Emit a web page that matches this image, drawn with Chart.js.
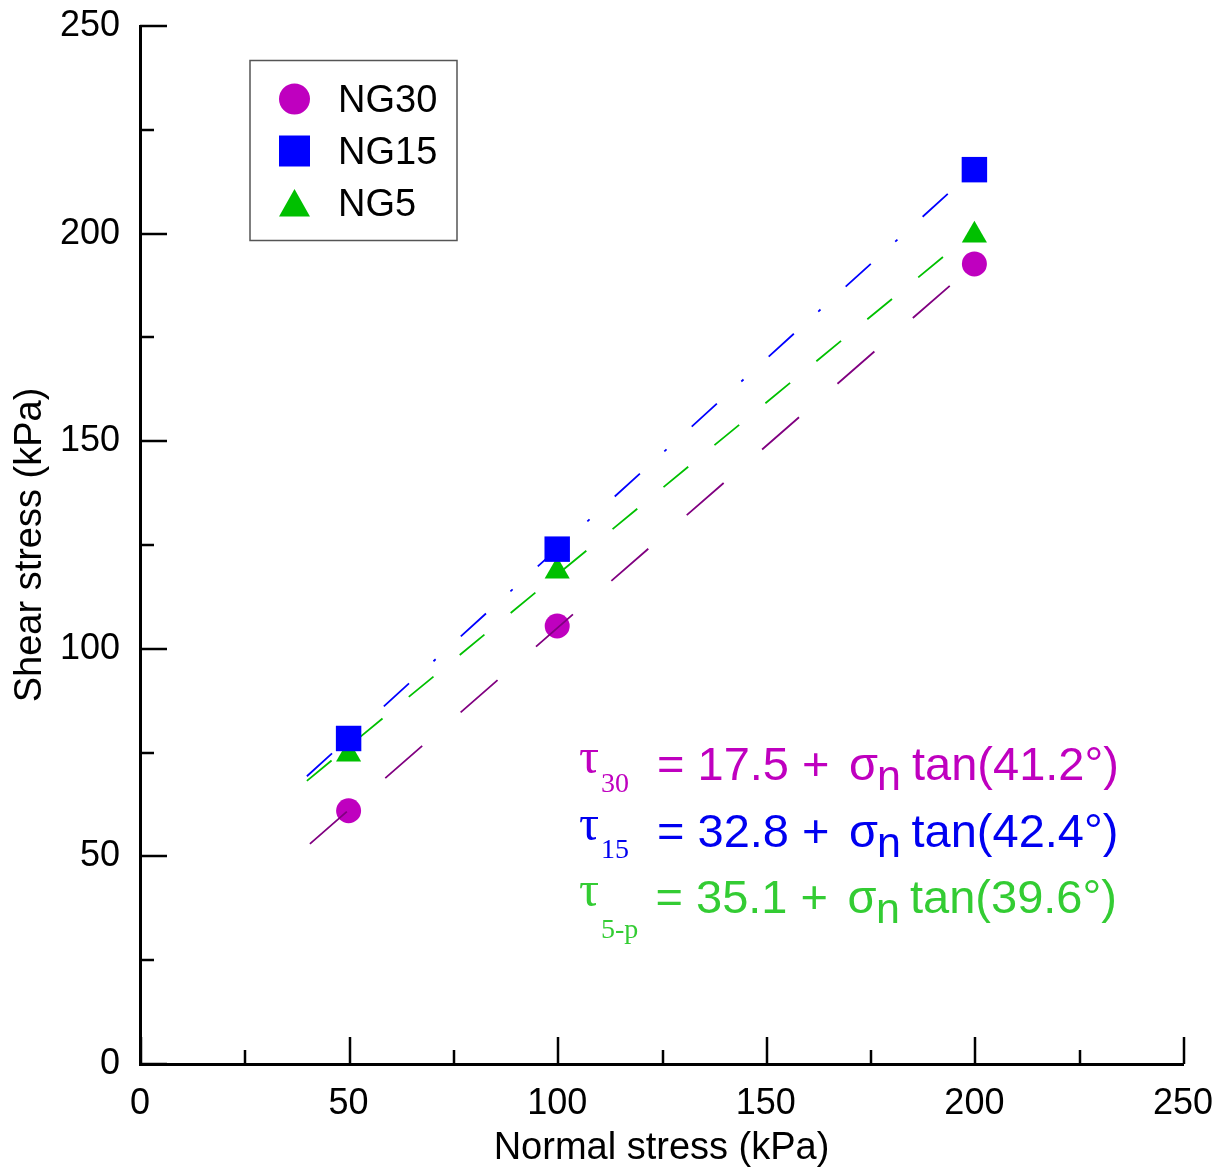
<!DOCTYPE html>
<html>
<head>
<meta charset="utf-8">
<script src="https://cdn.jsdelivr.net/npm/chart.js@4.4.1/dist/chart.umd.min.js"></script>
<style>
  html, body { margin: 0; padding: 0; background: #fff; }
  #wrap { width: 1226px; height: 1171px; }
</style>
</head>
<body>
<div id="wrap"><canvas id="grafico" width="1226" height="1171"></canvas></div>
<script>
// tensões normais dos ensaios (kPa)
const normalStress = [50, 100, 200];

// tensão cisalhante lida em cada série (kPa)
const shearNG30 = [61.0, 105.5, 192.7];
const shearNG15 = [78.4, 124.0, 215.4];
const shearNG5 = [74.6, 118.7, 199.6];

// retas de ajuste: extremos
const fitRange = [40, 200];
const fitNG30 = [52.4, 192.6];
const fitNG15 = [69.3, 215.4];
const fitNG5 = [68.2, 200.6];

const xTicks = [0, 50, 100, 150, 200, 250];
const yTicks = [0, 50, 100, 150, 200, 250];
const minorStep = 25;

const seriesNames = ['NG30', 'NG15', 'NG5'];
const eqSub = ['30', '15', '5-p'];
const eqIntercept = ['17.5', '32.8', '35.1'];
const eqAngle = ['41.2', '42.4', '39.6'];

const SANS = '"Liberation Sans", Arial, sans-serif';
const SERIF = '"Liberation Serif", "Times New Roman", serif';

function pontos(xs, ys) {
    return xs.map((x, i) => ({ x: x, y: ys[i] }));
}

// ticks para dentro, maiores a cada 50 e menores a cada 25
const ticksInternos = {
    id: 'ticksInternos',
    afterDraw(chart) {
        const ctx = chart.ctx;
        const xs = chart.scales.x, ys = chart.scales.y;
        const area = chart.chartArea;
        ctx.save();
        ctx.strokeStyle = '#000';
        ctx.lineWidth = 2.5;
        for (let v = xs.min; v <= xs.max; v += minorStep) {
            const len = v % 50 === 0 ? 27 : 14;
            const px = Math.round(xs.getPixelForValue(v)) + 1;
            ctx.beginPath();
            ctx.moveTo(px, area.bottom);
            ctx.lineTo(px, area.bottom - len);
            ctx.stroke();
        }
        for (let v = ys.min; v <= ys.max; v += minorStep) {
            const len = v % 50 === 0 ? 27 : 14;
            const py = Math.round(ys.getPixelForValue(v));
            ctx.beginPath();
            ctx.moveTo(area.left, py);
            ctx.lineTo(area.left + len, py);
            ctx.stroke();
        }
        ctx.restore();
    }
};

// legenda em caixa no canto superior esquerdo
const legendaCaixa = {
    id: 'legendaCaixa',
    afterDraw(chart) {
        const ctx = chart.ctx;
        ctx.save();
        ctx.strokeStyle = '#555';
        ctx.lineWidth = 1.5;
        ctx.strokeRect(250, 60.5, 207, 180);
        const mx = 294.5;
        const base = [112, 164, 216];
        for (let i = 0; i < 3; i++) {
            const ds = chart.data.datasets[i];
            const cy = base[i] - 13;
            ctx.fillStyle = ds.backgroundColor;
            ctx.beginPath();
            if (ds.pointStyle === 'circle') {
                ctx.arc(mx, cy, 15.5, 0, Math.PI * 2);
            } else if (ds.pointStyle === 'rect') {
                ctx.rect(mx - 15.5, cy - 15.5, 31, 31);
            } else {
                ctx.moveTo(mx, cy - 14);
                ctx.lineTo(mx + 15.5, cy + 13.5);
                ctx.lineTo(mx - 15.5, cy + 13.5);
                ctx.closePath();
            }
            ctx.fill();
            ctx.fillStyle = '#000';
            ctx.font = '38px ' + SANS;
            ctx.textBaseline = 'alphabetic';
            ctx.fillText(ds.label, 338, base[i]);
        }
        ctx.restore();
    }
};

// equações das envoltórias
const equacoes = {
    id: 'equacoes',
    afterDraw(chart) {
        const ctx = chart.ctx;
        const cores = ['#bf00bf', '#0000f0', '#33cc33'];
        const base = [780, 846.7, 913.3];
        const subDrop = [12, 11.3, 25];
        const eqX = [657, 657, 655.5];
        const sigX = [849, 849, 847.5];
        const nX = [877, 877, 876];
        const tanX = [912, 911.5, 910];
        ctx.save();
        ctx.textBaseline = 'alphabetic';
        ctx.textAlign = 'left';
        for (let i = 0; i < 3; i++) {
            const b = base[i];
            ctx.fillStyle = cores[i];
            ctx.font = '50px ' + SERIF;
            ctx.fillText('τ', 579, b - 7);
            ctx.font = '28px ' + SERIF;
            ctx.fillText(eqSub[i], 601, b + subDrop[i]);
            ctx.font = '47px ' + SANS;
            ctx.fillText('= ' + eqIntercept[i] + ' +', eqX[i], b);
            ctx.fillText('σ', sigX[i], b);
            ctx.font = '43px ' + SANS;
            ctx.fillText('n', nX[i], b + 10);
            ctx.font = '47px ' + SANS;
            ctx.fillText('tan(' + eqAngle[i] + '°)', tanX[i], b);
        }
        ctx.restore();
    }
};

const ctx = document.getElementById('grafico').getContext('2d');

new Chart(ctx, {
    type: 'scatter',
    data: {
        datasets: [
            {
                label: seriesNames[0],
                data: pontos(normalStress, shearNG30),
                pointStyle: 'circle',
                pointRadius: 12.5,
                backgroundColor: '#bf00bf',
                borderWidth: 0,
                order: 5
            },
            {
                label: seriesNames[1],
                data: pontos(normalStress, shearNG15),
                pointStyle: 'rect',
                pointRadius: 18,
                backgroundColor: '#0000ff',
                borderWidth: 0,
                order: 0
            },
            {
                label: seriesNames[2],
                data: pontos(normalStress, shearNG5),
                pointStyle: 'triangle',
                pointRadius: 14.5,
                backgroundColor: '#00c000',
                borderWidth: 0,
                order: 1
            },
            {
                label: 'ajuste NG30',
                data: pontos(fitRange, fitNG30),
                showLine: true,
                pointRadius: 0,
                borderColor: '#800080',
                borderWidth: 1.8,
                borderDash: [49, 51],
                borderDashOffset: -4,
                order: 4
            },
            {
                label: 'ajuste NG15',
                data: pontos(fitRange, fitNG15),
                showLine: true,
                pointRadius: 0,
                borderColor: '#0000ff',
                borderWidth: 1.8,
                borderDash: [34, 33, 3, 34],
                order: 2
            },
            {
                label: 'ajuste NG5',
                data: pontos(fitRange, fitNG5),
                showLine: true,
                pointRadius: 0,
                borderColor: '#00c000',
                borderWidth: 1.8,
                borderDash: [32, 34],
                order: 3
            }
        ]
    },
    options: {
        responsive: false,
        animation: false,
        devicePixelRatio: 1,
        layout: { padding: { top: 26, right: 43, bottom: 0, left: 0 } },
        plugins: {
            legend: { display: false },
            tooltip: { enabled: false }
        },
        scales: {
            x: {
                type: 'linear',
                position: 'bottom',
                min: 0,
                max: 250,
                afterBuildTicks: (s) => { s.ticks = xTicks.map(v => ({ value: v })); },
                afterFit: (s) => {
                    s.height = 107;
                    s.paddingLeft = 0;
                    s.paddingRight = 0;
                },
                grid: { display: false, drawTicks: false },
                border: { display: true, color: '#000', width: 3 },
                ticks: { color: '#000', font: { family: SANS, size: 36 }, padding: 18, maxRotation: 0 },
                title: {
                    display: true,
                    text: 'Normal stress (kPa)',
                    color: '#000',
                    font: { family: SANS, size: 38 },
                    padding: { top: 0, bottom: 0 }
                }
            },
            y: {
                type: 'linear',
                position: 'left',
                min: 0,
                max: 250,
                afterBuildTicks: (s) => { s.ticks = yTicks.map(v => ({ value: v })); },
                afterFit: (s) => {
                    s.width = 140;
                    s.paddingTop = 0;
                    s.paddingBottom = 0;
                },
                grid: { display: false, drawTicks: false },
                border: { display: true, color: '#000', width: 3 },
                ticks: { color: '#000', font: { family: SANS, size: 36 }, padding: 20 },
                title: {
                    display: true,
                    text: 'Shear stress (kPa)',
                    color: '#000',
                    font: { family: SANS, size: 38 },
                    padding: { top: 8, bottom: 0 }
                }
            }
        }
    },
    plugins: [ticksInternos, legendaCaixa, equacoes]
});
</script>
</body>
</html>
